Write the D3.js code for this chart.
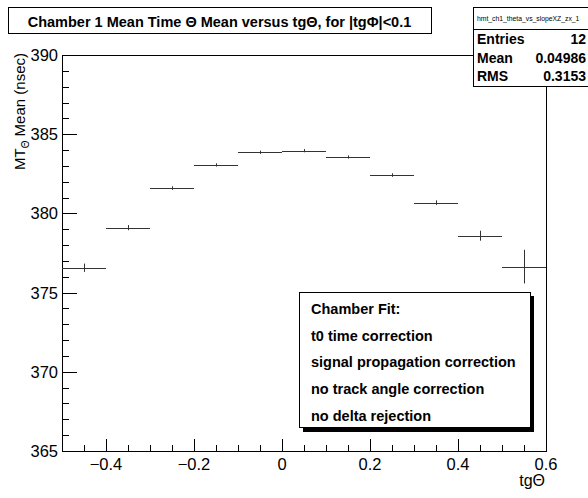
<!DOCTYPE html>
<html>
<head>
<meta charset="utf-8">
<script src="https://cdn.jsdelivr.net/npm/d3@7"></script>
<style>
  html, body { margin: 0; padding: 0; background: #fff; }
  svg { display: block; font-family: "Liberation Sans", Arial, Helvetica, sans-serif; }
</style>
</head>
<body>
<svg id="chart" width="588" height="498"></svg>
<script>
// Bin centres (tgΘ), mean time per bin and its error
const binCenters = [-0.45, -0.35, -0.25, -0.15, -0.05, 0.05, 0.15, 0.25, 0.35, 0.45, 0.55];
const meanTime   = [376.57, 379.10, 381.60, 383.06, 383.86, 383.96, 383.56, 382.42, 380.68, 378.59, 376.64];
const meanErr    = [0.20, 0.10, 0.05, 0.04, 0.04, 0.04, 0.04, 0.05, 0.08, 0.25, 1.00];
const binWidth = 0.1;

const xTicks = [-0.4, -0.2, 0, 0.2, 0.4, 0.6];
const yTicks = [365, 370, 375, 380, 385, 390];

const statsLabels = ["Entries", "Mean", "RMS"];
const statsValues = ["12", "0.04986", "0.3153"];
const fitNotes = ["Chamber Fit:", "t0 time correction", "signal propagation correction",
                  "no track angle correction", "no delta rejection"];

const svg = d3.select("#chart");
const frame = { left: 62, right: 546, top: 55, bottom: 451 };

const x = d3.scaleLinear().domain([-0.5, 0.6]).range([frame.left, frame.right]);
const y = d3.scaleLinear().domain([365, 390]).range([frame.bottom, frame.top]);

// Ticks drawn inward, ROOT style
const xMinor = d3.range(-0.45, 0.6, 0.05).map(v => +v.toFixed(2));
const yMinor = d3.range(366, 390, 1).filter(v => v % 5 !== 0);

const ticks = svg.append("g").attr("stroke", "#000").attr("stroke-width", 1);
ticks.selectAll(".xmin").data(xMinor).join("line")
  .attr("x1", d => Math.round(x(d)) + 0.5).attr("x2", d => Math.round(x(d)) + 0.5)
  .attr("y1", frame.bottom).attr("y2", frame.bottom - 6);
ticks.selectAll(".xmaj").data(xTicks).join("line")
  .attr("x1", d => Math.round(x(d)) + 0.5).attr("x2", d => Math.round(x(d)) + 0.5)
  .attr("y1", frame.bottom).attr("y2", frame.bottom - 12);
ticks.selectAll(".ymin").data(yMinor).join("line")
  .attr("y1", d => Math.round(y(d)) + 0.5).attr("y2", d => Math.round(y(d)) + 0.5)
  .attr("x1", frame.left).attr("x2", frame.left + 7);
ticks.selectAll(".ymaj").data(yTicks).join("line")
  .attr("y1", d => Math.round(y(d)) + 0.5).attr("y2", d => Math.round(y(d)) + 0.5)
  .attr("x1", frame.left).attr("x2", frame.left + 15);

// Tick labels
svg.append("g").selectAll("text").data(xTicks).join("text")
  .attr("x", d => x(d)).attr("y", 470)
  .attr("text-anchor", "middle").attr("font-size", 16.5).attr("fill", "#000")
  .text(d => d3.format("")(d));
svg.append("g").selectAll("text").data(yTicks).join("text")
  .attr("x", 58).attr("y", d => y(d) + 6)
  .attr("text-anchor", "end").attr("font-size", 16.5).attr("fill", "#000")
  .text(d => d);

// Frame
svg.append("rect")
  .attr("x", frame.left + 0.5).attr("y", frame.top + 0.5)
  .attr("width", frame.right - frame.left).attr("height", frame.bottom - frame.top)
  .attr("fill", "none").attr("stroke", "#000").attr("stroke-width", 1);

// Data: horizontal bin extent plus vertical error bar
const pts = binCenters.map((c, i) => ({ c, v: meanTime[i], e: meanErr[i] }));
const marks = svg.append("g").attr("stroke", "#333").attr("stroke-width", 1);
marks.selectAll(".h").data(pts).join("line")
  .attr("x1", d => x(d.c - binWidth / 2)).attr("x2", d => Math.min(x(d.c + binWidth / 2), frame.right))
  .attr("y1", d => Math.round(y(d.v)) + 0.5).attr("y2", d => Math.round(y(d.v)) + 0.5);
marks.selectAll(".v").data(pts).join("line")
  .attr("x1", d => Math.round(x(d.c)) + 0.5).attr("x2", d => Math.round(x(d.c)) + 0.5)
  .attr("y1", d => y(d.v - d.e) + 1).attr("y2", d => y(d.v + d.e) - 1);

// Axis titles
svg.append("text").attr("x", 545).attr("y", 486)
  .attr("text-anchor", "end").attr("font-size", 16).text("tgΘ");

const yTitle = svg.append("text")
  .attr("transform", "translate(25,53) rotate(-90)")
  .attr("text-anchor", "end").attr("font-size", 15);
yTitle.append("tspan").text("MT");
yTitle.append("tspan").attr("font-size", 10).attr("dy", 4).text("Θ");
yTitle.append("tspan").attr("dy", -4).text(" Mean (nsec)");

// Title box
svg.append("rect").attr("x", 8.5).attr("y", 7.5).attr("width", 423).attr("height", 26)
  .attr("fill", "#fff").attr("stroke", "#000");
svg.append("text").attr("x", 219.5).attr("y", 26.5)
  .attr("text-anchor", "middle").attr("font-size", 14.5).attr("font-weight", "bold")
  .text("Chamber 1 Mean Time Θ Mean versus tgΘ, for |tgΦ|<0.1");

// Statistics box
const stats = svg.append("g");
stats.append("rect").attr("x", 473.5).attr("y", 7.5).attr("width", 120).attr("height", 79)
  .attr("fill", "#fff").attr("stroke", "#000");
stats.append("line").attr("x1", 473.5).attr("x2", 588).attr("y1", 29.5).attr("y2", 29.5)
  .attr("stroke", "#000");
stats.append("text").attr("x", 477).attr("y", 21).attr("font-size", 6.8)
  .text("hmt_ch1_theta_vs_slopeXZ_zx_1");
stats.selectAll(".lab").data(statsLabels).join("text")
  .attr("x", 477).attr("y", (d, i) => 44 + i * 18.5)
  .attr("font-size", 14).attr("font-weight", "bold").text(d => d);
stats.selectAll(".val").data(statsValues).join("text")
  .attr("x", 586).attr("y", (d, i) => 44 + i * 18.5)
  .attr("text-anchor", "end").attr("font-size", 14).attr("font-weight", "bold").text(d => d);

// Fit-settings box with drop shadow
const note = svg.append("g");
note.append("rect").attr("x", 303).attr("y", 296).attr("width", 231).attr("height", 136).attr("fill", "#000");
note.append("rect").attr("x", 299.5).attr("y", 292.5).attr("width", 231).attr("height", 135)
  .attr("fill", "#fff").attr("stroke", "#000");
note.selectAll("text").data(fitNotes).join("text")
  .attr("x", 311).attr("y", (d, i) => 314 + i * 26.7)
  .attr("font-size", 14.5).attr("font-weight", "bold").text(d => d);
</script>
</body>
</html>
